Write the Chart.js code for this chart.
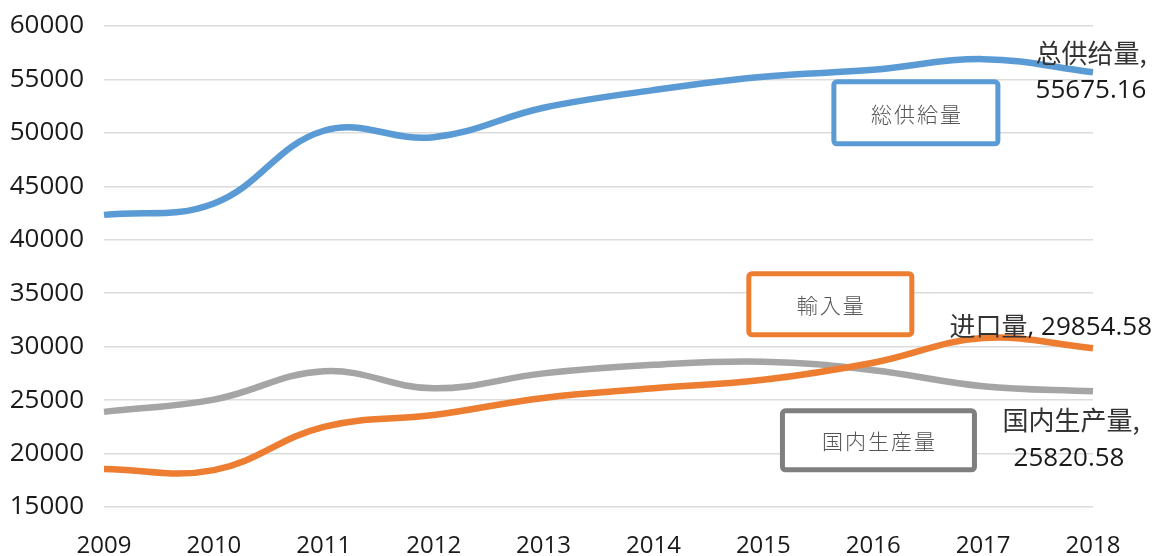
<!DOCTYPE html>
<html>
<head>
<meta charset="utf-8">
<script src="https://cdn.jsdelivr.net/npm/chart.js@4.4.1/dist/chart.umd.min.js"></script>
<style>
  html, body { margin: 0; padding: 0; background: #ffffff; }
  #wrap { width: 1155px; height: 556px; }
</style>
</head>
<body>
<div id="wrap"><canvas id="c" width="1155" height="556"></canvas></div>
<script>
// ---- data ----
const categories = ['2009', '2010', '2011', '2012', '2013', '2014', '2015', '2016', '2017', '2018'];
const totalSupply = [42330, 43400, 50200, 49600, 52350, 54000, 55250, 55900, 56900, 55675.16];
const imports     = [18550, 18450, 22500, 23600, 25200, 26100, 26900, 28500, 30800, 29854.58];
const domestic    = [23900, 25050, 27700, 26100, 27500, 28300, 28600, 27800, 26300, 25820.58];
const seriesNames = ['总供给量', '进口量', '国内生产量'];
const boxLabels   = ['総供給量', '輸入量', '国内生産量'];
const yMin = 15000, yMax = 60000, yStep = 5000;

const colors = ['#5B9BD5', '#ED7D31', '#A5A5A5'];
const boxBorder = ['#5B9BD5', '#ED7D31', '#7F7F7F'];

function fmt(v) { return String(v); }

const annotPlugin = {
  id: 'annot',
  afterDatasetsDraw(chart) {
    const ctx = chart.ctx;
    const x = chart.scales.x, y = chart.scales.y;
    const last = categories.length - 1;
    const px = x.getPixelForValue(last);
    const cjk = '"Noto Sans CJK SC", "Noto Sans", sans-serif';
    const num = '"Open Sans", "Noto Sans", sans-serif';
    ctx.save();
    ctx.textBaseline = 'middle';

    // end labels anchored on the last point of each series
    let py = y.getPixelForValue(totalSupply[last]);
    ctx.textAlign = 'center';
    ctx.fillStyle = '#333333';
    ctx.font = '26px ' + cjk;
    ctx.fillText(seriesNames[0] + ',', px - 2, py - 19);
    ctx.fillStyle = '#1a1a1a';
    ctx.font = '26px ' + num;
    ctx.fillText(fmt(totalSupply[last]), px - 2, py + 18);

    py = y.getPixelForValue(imports[last]);
    ctx.textAlign = 'right';
    ctx.font = '26px ' + num;
    const numTxt = ', ' + fmt(imports[last]);
    ctx.fillStyle = '#1a1a1a';
    ctx.fillText(numTxt, px + 59, py - 21);
    const w = ctx.measureText(numTxt).width;
    ctx.fillStyle = '#333333';
    ctx.font = '26px ' + cjk;
    ctx.fillText(seriesNames[1], px + 59 - w, py - 22);

    py = y.getPixelForValue(domestic[last]);
    ctx.textAlign = 'center';
    ctx.fillStyle = '#333333';
    ctx.font = '26px ' + cjk;
    ctx.fillText(seriesNames[2] + ',', px - 22, py + 29);
    ctx.fillStyle = '#1a1a1a';
    ctx.font = '26px ' + num;
    ctx.fillText(fmt(domestic[last]), px - 24, py + 67);

    // boxed labels (placed relative to the chart area)
    const a = chart.chartArea;
    const W = a.right - a.left, H = a.bottom - a.top;
    const boxes = [
      { fx: 0.738, fy: 0.116, w: 164, h: 62, t: boxLabels[0] },
      { fx: 0.652, fy: 0.515, w: 163, h: 61, t: boxLabels[1] },
      { fx: 0.686, fy: 0.800, w: 192, h: 59, t: boxLabels[2] }
    ];
    boxes.forEach((b, i) => {
      const bx = a.left + b.fx * W, by = a.top + b.fy * H;
      ctx.beginPath();
      if (ctx.roundRect) ctx.roundRect(bx, by, b.w, b.h, 3); else ctx.rect(bx, by, b.w, b.h);
      ctx.fillStyle = '#ffffff';
      ctx.fill();
      ctx.lineWidth = 5;
      ctx.strokeStyle = boxBorder[i];
      ctx.stroke();
      ctx.fillStyle = '#555555';
      ctx.font = '300 21px "Noto Sans CJK JP", "Noto Sans CJK SC", sans-serif';
      const s = b.t.split('');
      const sp = 2;
      let tw = 0;
      s.forEach(ch => tw += ctx.measureText(ch).width);
      tw += sp * (s.length - 1);
      let cx = bx + b.w / 2 - tw / 2;
      ctx.textAlign = 'left';
      s.forEach(ch => {
        ctx.fillText(ch, cx, by + b.h / 2 + 1);
        cx += ctx.measureText(ch).width + sp;
      });
    });
    ctx.restore();
  }
};

const ds = (label, data, color) => ({
  label, data,
  borderColor: color,
  backgroundColor: color,
  borderWidth: 6.5,
  pointRadius: 0,
  pointHoverRadius: 0,
  tension: 0.4,
  fill: false,
  borderCapStyle: 'butt',
  clip: false
});

new Chart(document.getElementById('c'), {
  type: 'line',
  data: {
    labels: categories,
    datasets: [
      ds(seriesNames[0], totalSupply, colors[0]),
      ds(seriesNames[1], imports, colors[1]),
      ds(seriesNames[2], domestic, colors[2])
    ]
  },
  options: {
    responsive: false,
    animation: false,
    events: [],
    layout: { padding: { left: 0, top: 26, right: 62, bottom: 0 } },
    plugins: { legend: { display: false }, tooltip: { enabled: false } },
    scales: {
      x: {
        offset: false,
        grid: { display: false, drawTicks: false },
        border: { display: false },
        ticks: {
          color: '#1a1a1a',
          font: { family: '"Open Sans", sans-serif', size: 24 },
          padding: 25,
          maxRotation: 0,
          autoSkip: false
        },
        afterFit(scale) { scale.height = 49; scale.paddingLeft = 0; scale.paddingRight = 0; }
      },
      y: {
        min: yMin, max: yMax,
        grid: { color: '#dcdcdc', lineWidth: 1.6, drawTicks: false },
        border: { display: false },
        ticks: {
          stepSize: yStep,
          color: '#1a1a1a',
          font: { family: '"Open Sans", sans-serif', size: 26 },
          padding: 20,
          callback: (v) => String(v)
        },
        afterFit(scale) { scale.width = 104; scale.paddingTop = 0; scale.paddingBottom = 0; }
      }
    }
  },
  plugins: [annotPlugin]
});
</script>
</body>
</html>
